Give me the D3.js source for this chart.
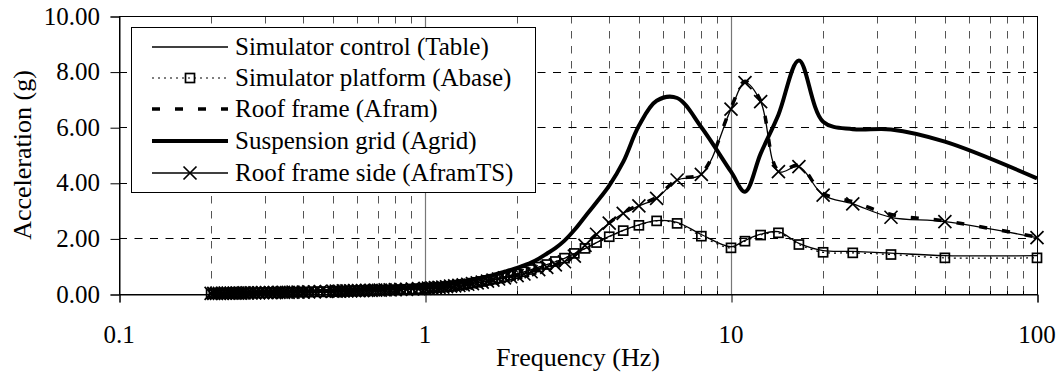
<!DOCTYPE html>
<html><head><meta charset="utf-8"><title>Acceleration spectra</title>
<script src="https://cdn.jsdelivr.net/npm/d3@7"></script>
</head><body style="margin:0;background:#ffffff">
<svg id="chart" width="1061" height="381"></svg>
<script>
const freq = [
 0.2,0.2041,0.2083,0.2128,0.2174,0.2222,0.2273,0.2326,0.2381,0.2439,0.25,0.2564,0.2632,0.2703,0.2778,0.2857,0.2941,0.303,0.3125,0.3226,0.3333,0.3448,0.3571,0.3704,0.3846,0.4,0.4167,0.4348,0.4545,0.4762,
 0.5,0.5128,0.5263,0.5405,0.5556,0.5714,0.5882,0.6061,0.625,0.6452,0.6667,0.6897,0.7143,0.7407,0.7692,0.8,0.8333,0.8696,0.9091,0.9524,
 1.0,1.026,1.053,1.081,1.111,1.143,1.176,1.212,1.25,1.29,1.333,1.379,1.429,1.481,1.538,1.6,1.667,1.739,1.818,1.905,
 2.0,2.105,2.222,2.353,2.5,2.667,2.857,3.077,3.333,3.636,4.0,4.444,5.0,5.714,6.667,8.0,
 10,11.11,12.5,14.29,16.67,20,25,33.33,50,100];

const table = [
 0.02,0.02,0.02,0.02,0.02,0.02,0.03,0.03,0.03,0.03,0.03,0.03,0.03,0.04,0.04,0.04,0.04,0.04,0.05,0.05,0.05,0.05,0.06,0.06,0.06,0.07,0.07,0.07,0.08,0.08,
 0.09,0.09,0.09,0.10,0.10,0.10,0.11,0.11,0.11,0.12,0.12,0.13,0.13,0.14,0.14,0.15,0.16,0.16,0.17,0.18,
 0.19,0.20,0.21,0.22,0.23,0.24,0.26,0.27,0.29,0.31,0.33,0.35,0.38,0.41,0.44,0.48,0.52,0.56,0.61,0.66,
 0.72,0.80,0.88,0.97,1.06,1.16,1.28,1.45,1.63,1.85,2.07,2.29,2.49,2.64,2.58,2.14,
 1.70,1.93,2.15,2.24,1.82,1.56,1.53,1.47,1.38,1.38];

const abase = [
 0.01,0.02,0.02,0.02,0.02,0.02,0.02,0.03,0.03,0.03,0.03,0.03,0.04,0.04,0.04,0.04,0.04,0.05,0.05,0.05,0.05,0.06,0.06,0.06,0.07,0.07,0.07,0.08,0.08,0.08,
 0.09,0.09,0.10,0.10,0.10,0.11,0.11,0.11,0.12,0.12,0.13,0.13,0.14,0.14,0.15,0.15,0.16,0.17,0.18,0.19,
 0.20,0.21,0.22,0.23,0.24,0.25,0.27,0.28,0.30,0.32,0.34,0.36,0.39,0.42,0.45,0.49,0.53,0.57,0.62,0.67,
 0.73,0.80,0.88,0.97,1.06,1.17,1.29,1.46,1.64,1.85,2.06,2.28,2.47,2.63,2.54,2.08,
 1.66,1.90,2.12,2.20,1.78,1.50,1.48,1.42,1.30,1.30];

const afram = [
 0.02,0.02,0.02,0.02,0.03,0.03,0.03,0.03,0.03,0.03,0.04,0.04,0.04,0.04,0.04,0.05,0.05,0.05,0.05,0.06,0.06,0.06,0.06,0.07,0.07,0.07,0.08,0.08,0.09,0.09,
 0.10,0.10,0.10,0.11,0.11,0.11,0.12,0.12,0.13,0.13,0.14,0.14,0.15,0.15,0.16,0.16,0.17,0.18,0.18,0.19,
 0.20,0.21,0.22,0.23,0.24,0.25,0.27,0.28,0.30,0.31,0.33,0.36,0.38,0.41,0.44,0.47,0.51,0.55,0.59,0.63,
 0.68,0.74,0.81,0.89,0.97,1.06,1.18,1.38,1.76,2.16,2.56,2.92,3.20,3.48,4.12,4.34,
 6.70,7.65,6.95,4.45,4.62,3.62,3.32,2.86,2.63,2.05];

const agrid = [
 0.03,0.03,0.03,0.03,0.03,0.03,0.04,0.04,0.04,0.04,0.04,0.05,0.05,0.05,0.05,0.06,0.06,0.06,0.07,0.07,0.07,0.08,0.08,0.08,0.09,0.09,0.10,0.10,0.11,0.11,
 0.12,0.12,0.13,0.13,0.14,0.14,0.15,0.15,0.16,0.16,0.17,0.18,0.19,0.20,0.21,0.22,0.23,0.24,0.25,0.27,
 0.28,0.29,0.30,0.31,0.32,0.34,0.36,0.38,0.40,0.42,0.45,0.48,0.51,0.55,0.59,0.63,0.68,0.74,0.80,0.87,
 0.94,1.03,1.13,1.27,1.45,1.65,1.92,2.30,2.78,3.30,3.90,4.75,6.05,6.95,7.05,6.00,
 4.40,3.68,5.05,6.45,8.40,6.20,5.93,5.92,5.48,4.16];

const aframTS = [
 0.02,0.02,0.02,0.02,0.02,0.03,0.03,0.03,0.03,0.03,0.03,0.04,0.04,0.04,0.04,0.04,0.05,0.05,0.05,0.05,0.06,0.06,0.06,0.07,0.07,0.07,0.08,0.08,0.09,0.09,
 0.10,0.10,0.10,0.11,0.11,0.11,0.12,0.12,0.12,0.13,0.13,0.14,0.14,0.15,0.15,0.16,0.17,0.17,0.18,0.19,
 0.20,0.21,0.22,0.23,0.24,0.25,0.26,0.28,0.29,0.31,0.33,0.35,0.37,0.40,0.43,0.46,0.50,0.54,0.58,0.62,
 0.66,0.72,0.80,0.88,0.96,1.05,1.16,1.36,1.75,2.15,2.55,2.90,3.17,3.44,4.10,4.30,
 6.65,7.60,6.92,4.40,4.58,3.56,3.24,2.76,2.60,2.03];

const seriesNames = ["Simulator control (Table)","Simulator platform (Abase)","Roof frame (Afram)","Suspension grid (Agrid)","Roof frame side (AframTS)"];
const yTickValues = [0,2,4,6,8,10];
const yTickLabels = ["0.00","2.00","4.00","6.00","8.00","10.00"];
const xTickValues = [0.1,1,10,100];
const xTickLabels = ["0.1","1","10","100"];
const xTitle = "Frequency (Hz)";
const yTitle = "Acceleration (g)";

const L=119, R=1037, T=16, B=294;
const svg = d3.select("#chart");
const x = d3.scaleLog().domain([0.1,100]).range([L,R]);
const y = d3.scaleLinear().domain([0,10]).range([B,T]);
function label(g, txt, size){
  return g.append("text").style("font-family",'"Liberation Serif"')
    .attr("font-size",size).attr("fill","#000").text(txt);
}

const minor = [];
[0.1,1,10].forEach(d=>{ for(let k=2;k<=9;k++) minor.push(d*k); });
svg.append("g").selectAll("line").data(minor).join("line")
  .attr("x1",d=>Math.round(x(d))+0.5).attr("x2",d=>Math.round(x(d))+0.5)
  .attr("y1",T).attr("y2",B)
  .attr("stroke","#555").attr("stroke-width",1).attr("stroke-dasharray","7.5,7.5");
svg.append("g").selectAll("line").data([1,10]).join("line")
  .attr("x1",d=>Math.round(x(d))+0.5).attr("x2",d=>Math.round(x(d))+0.5)
  .attr("y1",T).attr("y2",B)
  .attr("stroke","#777").attr("stroke-width",1.2);
svg.append("g").selectAll("line").data([2,4,6,8]).join("line")
  .attr("x1",L).attr("x2",R)
  .attr("y1",d=>Math.round(y(d))+0.5).attr("y2",d=>Math.round(y(d))+0.5)
  .attr("stroke","#000").attr("stroke-width",1).attr("stroke-dasharray","8,7.5");

svg.append("rect").attr("x",L+0.5).attr("y",T+0.5).attr("width",R-L).attr("height",B-T)
  .attr("fill","none").attr("stroke","#000").attr("stroke-width",1);

const gy = svg.append("g").attr("transform",`translate(${L+0.5},0.5)`)
  .call(d3.axisLeft(y).tickValues(yTickValues).tickSize(9).tickFormat(""));
gy.select(".domain").attr("stroke","#000");
const gyl = svg.append("g");
yTickValues.forEach((v,i)=>{
  label(gyl, yTickLabels[i], 25).attr("x",100).attr("y",y(v)+8.5).attr("text-anchor","end");
});

const gx = svg.append("g").attr("transform",`translate(0.5,${B+0.5})`)
  .call(d3.axisBottom(x).tickValues(xTickValues).tickSize(8).tickFormat(""));
gx.select(".domain").attr("stroke","#000");
const gxl = svg.append("g");
xTickValues.forEach((v,i)=>{
  label(gxl, xTickLabels[i], 25).attr("x",x(v)).attr("y",343).attr("text-anchor","middle");
});
svg.append("g").selectAll("line").data(minor).join("line")
  .attr("x1",d=>Math.round(x(d))+0.5).attr("x2",d=>Math.round(x(d))+0.5)
  .attr("y1",B-3).attr("y2",B).attr("stroke","#000");

label(svg, xTitle, 26).attr("x",(L+R)/2).attr("y",366).attr("text-anchor","middle");
label(svg, yTitle, 26).attr("transform",`translate(31,${(T+B)/2}) rotate(-90)`).attr("text-anchor","middle");

const line = vals => d3.line().x((d,i)=>x(freq[i])).y(d=>y(d)).curve(d3.curveCatmullRom.alpha(0.5))(vals);
const styles = [
  {vals:table,  w:1.3, dash:null,   marker:null},
  {vals:abase,  w:1.2, dash:"2,4",  marker:"sq"},
  {vals:afram,  w:3.5, dash:"8,15", marker:null},
  {vals:agrid,  w:4,   dash:null,   marker:null},
  {vals:aframTS,w:1.3, dash:null,   marker:"x"}
];
const gS = svg.append("g");
function drawMarker(g, kind, cx, cy){
  if(kind==="sq"){
    g.append("rect").attr("x",cx-4.5).attr("y",cy-4.5).attr("width",9).attr("height",9)
      .attr("fill","none").attr("stroke","#000").attr("stroke-width",1.7);
  } else if(kind==="x"){
    g.append("path").attr("d",`M${cx-6.5},${cy-6.5}L${cx+6.5},${cy+6.5}M${cx-6.5},${cy+6.5}L${cx+6.5},${cy-6.5}`)
      .attr("stroke","#000").attr("stroke-width",1.7).attr("fill","none");
  }
}
styles.forEach(s=>{
  const p = gS.append("path").attr("d",line(s.vals)).attr("fill","none")
    .attr("stroke","#000").attr("stroke-width",s.w).attr("stroke-linejoin","round");
  if(s.dash) p.attr("stroke-dasharray",s.dash);
  if(s.marker){
    const gm = gS.append("g");
    s.vals.forEach((v,i)=>drawMarker(gm,s.marker,x(freq[i]),y(v)));
  }
});

const lg = svg.append("g");
lg.append("rect").attr("x",131.5).attr("y",27.5).attr("width",404).attr("height",165)
  .attr("fill","#fff").attr("stroke","#000").attr("stroke-width",1);
const rowY = [47,78,109,141,173];
styles.forEach((s,i)=>{
  const yy = rowY[i];
  const p = lg.append("line").attr("x1",152).attr("x2",228).attr("y1",yy).attr("y2",yy)
    .attr("stroke","#000").attr("stroke-width",s.w);
  if(s.dash) p.attr("stroke-dasharray",s.dash);
  if(s.marker) drawMarker(lg,s.marker,190,yy);
  label(lg, seriesNames[i], 25).attr("x",235).attr("y",yy+8);
});
</script>
</body></html>
